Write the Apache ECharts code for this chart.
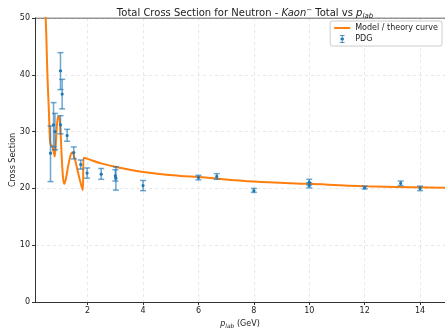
<!DOCTYPE html>
<html><head><meta charset="utf-8">
<script src="https://cdn.jsdelivr.net/npm/echarts@6/dist/echarts.min.js"></script>
<style>html,body{margin:0;padding:0;background:#fff}#c{width:445px;height:329px}</style>
</head><body><div id="c"></div>
<script>
// PDG measurements: [p_lab, sigma, low, high]
const pdgX = [0.66,0.77,0.82,1.02,1.08,1.02,1.26,1.50,1.75,1.98,2.49,3.00,3.02,4.00,6.00,6.66,8.00,10.0,10.0,12.0,13.3,14.0];
const pdgY = [26.2,31.2,30.0,40.7,36.6,31.2,29.3,26.3,24.2,22.7,22.5,22.2,21.8,20.5,21.9,22.1,19.6,21.1,20.5,20.1,20.9,20.0];
const pdgLo = [21.2,27.3,26.8,37.4,34.0,29.6,28.3,25.2,23.4,21.8,21.6,21.3,19.7,19.6,21.5,21.6,19.3,20.6,20.1,19.9,20.5,19.6];
const pdgHi = [31.0,35.1,33.2,43.9,39.2,32.8,30.4,27.3,25.0,23.6,23.5,23.3,23.8,21.4,22.3,22.6,20.0,21.6,21.0,20.4,21.3,20.4];
// Model curve
const curveX = [0.47,0.51,0.55,0.60,0.64,0.67,0.72,0.77,0.81,0.86,0.91,0.96,1.01,1.06,1.11,1.16,1.22,1.30,1.38,1.44,1.52,1.62,1.72,1.82,1.86,2.0,2.49,3.0,4.0,5.34,6.0,8,10,12,14.9];
const curveY = [52,46.6,39.7,33.8,28.5,27.6,27.5,26.5,25.6,28.5,32.0,32.7,31,26,22,20.8,21.8,24.0,25.8,26.3,25.5,23.5,21.5,19.7,25.4,25.2,24.4,23.8,22.9,22.2,22.0,21.2,20.8,20.4,20.1];
const xTicks = [2,4,6,8,10,12,14];
const yTicks = [0,10,20,30,40,50];

const blue = '#1f77b4', orange = '#ff7f0e';
const errData = pdgX.map((x,i)=>[x,pdgY[i],pdgLo[i],pdgHi[i]]);
const curveData = curveX.map((x,i)=>[x,curveY[i]]);

const chart = echarts.init(document.getElementById('c'));
chart.setOption({
  animation:false,
  backgroundColor:'#fff',
  title:{
    left:240, textAlign:'center', top:2,
    text:'Total Cross Section for Neutron - {i|Kaon}{sup|−} Total vs {i|p}{sub|lab}',
    textStyle:{fontFamily:'DejaVu Sans',fontSize:10,fontWeight:'normal',color:'#222',
      rich:{i:{fontFamily:'DejaVu Sans',fontStyle:'italic',fontSize:10,color:'#222'},
            sup:{fontFamily:'DejaVu Sans',fontSize:7,verticalAlign:'top',padding:[0,0,6,0],color:'#222'},
            sub:{fontFamily:'DejaVu Sans',fontStyle:'italic',fontSize:7,padding:[5,0,0,0],color:'#222'}}}
  },
  legend:{
    right:3, top:21, orient:'vertical', itemGap:3, itemWidth:16, itemHeight:8,
    backgroundColor:'rgba(255,255,255,0.9)', borderColor:'#ccc', borderWidth:1, borderRadius:2,
    padding:[3,4,3,4],
    textStyle:{fontFamily:'DejaVu Sans',fontSize:8,color:'#222'},
    data:[
      {name:'Model / theory curve', icon:'path://M0,4L16,4L16,6L0,6Z', itemStyle:{color:orange}},
      {name:'PDG', icon:'path://M5,0L11,0L11,1L8.5,1L8.5,3.5L10,3.5L10,6.5L8.5,6.5L8.5,9L11,9L11,10L5,10L5,9L7.5,9L7.5,6.5L6,6.5L6,3.5L7.5,3.5L7.5,1L5,1Z', itemStyle:{color:blue}}
    ]
  },
  grid:{left:35, right:0, top:18, bottom:27, outerBoundsMode:'none', containLabel:false},
  xAxis:{
    type:'value', min:0.1, max:14.9, splitNumber:7,
    name:'{i|p}{sub|lab} (GeV)', nameLocation:'middle', nameGap:17, nameMoveOverlap:false,
    nameTextStyle:{fontFamily:'DejaVu Sans',fontSize:8,color:'#222',
      rich:{i:{fontStyle:'italic',fontSize:8,fontFamily:'DejaVu Sans',color:'#222'},
            sub:{fontStyle:'italic',fontSize:6,padding:[4,0,0,0],fontFamily:'DejaVu Sans',color:'#222'}}},
    axisLine:{show:true,lineStyle:{color:'#333',width:1}},
    axisTick:{show:true,length:3,lineStyle:{color:'#333'}},
    axisLabel:{fontFamily:'DejaVu Sans',fontSize:8,color:'#222',margin:5,showMinLabel:false,showMaxLabel:false,
      formatter:v=>xTicks.includes(Math.round(v*1000)/1000)?String(v):''},
    splitLine:{show:true,lineStyle:{color:'#e3e3e3',type:[3,3],width:0.8}}
  },
  yAxis:{
    type:'value', min:0, max:50, interval:10,
    name:'Cross Section', nameLocation:'middle', nameGap:18, nameMoveOverlap:false,
    nameTextStyle:{fontFamily:'DejaVu Sans',fontSize:8,color:'#222'},
    axisLine:{show:true,lineStyle:{color:'#333',width:1}},
    axisTick:{show:true,length:3,lineStyle:{color:'#333'}},
    axisLabel:{fontFamily:'DejaVu Sans',fontSize:8,color:'#222',margin:5,
      formatter:v=>yTicks.includes(v)?String(v):''},
    splitLine:{show:true,lineStyle:{color:'#e3e3e3',type:[3,3],width:0.8}}
  },
  series:[
    {
      name:'Model / theory curve', type:'line', data:curveData, showSymbol:false, symbol:'none',
      smooth:0.35, clip:true, lineStyle:{color:orange,width:2}, itemStyle:{color:orange}, z:3
    },
    {
      name:'PDG', type:'custom', data:errData, z:4, clip:true,
      encode:{x:0,y:[1,2,3]},
      renderItem:(params,api)=>{
        const x=api.value(0);
        const pc=api.coord([x,api.value(1)]);
        const pl=api.coord([x,api.value(2)]);
        const ph=api.coord([x,api.value(3)]);
        const cw=3;
        const st={stroke:'rgba(31,119,180,0.65)',lineWidth:1.5};
        return {type:'group',children:[
          {type:'line',shape:{x1:pc[0],y1:pl[1],x2:pc[0],y2:ph[1]},style:st},
          {type:'line',shape:{x1:pc[0]-cw,y1:pl[1],x2:pc[0]+cw,y2:pl[1]},style:st},
          {type:'line',shape:{x1:pc[0]-cw,y1:ph[1],x2:pc[0]+cw,y2:ph[1]},style:st},
          {type:'circle',shape:{cx:pc[0],cy:pc[1],r:1.6},style:{fill:blue}}
        ]};
      },
      itemStyle:{color:blue}
    },
    {
      type:'line', data:[[0.1,50],[14.9,50]], symbol:'none', silent:true,
      lineStyle:{color:'#333',width:1}, z:1, tooltip:{show:false}
    }
  ]
});
</script>
</body></html>
